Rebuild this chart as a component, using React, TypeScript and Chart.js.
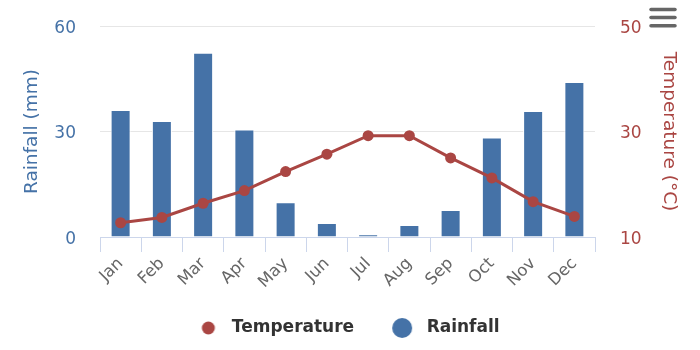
import React, { useEffect, useRef } from 'react';
import { Chart, registerables } from 'chart.js';

Chart.register(...registerables);

const months = ['Jan', 'Feb', 'Mar', 'Apr', 'May', 'Jun', 'Jul', 'Aug', 'Sep', 'Oct', 'Nov', 'Dec'];
const rainfall = [36.1, 33.0, 52.4, 30.6, 9.9, 4.0, 0.8, 3.4, 7.7, 28.3, 35.8, 44.1];
const temperature = [12.7, 13.7, 16.4, 18.8, 22.4, 25.7, 29.2, 29.2, 25.0, 21.2, 16.7, 13.9];
const rainRange = [0, 60];
const rainStep = 30;
const tempRange = [10, 50];
const tempStep = 20;

const BLUE = '#4572A7';
const RED = '#AA4643';
const FONT = '"DejaVu Sans", sans-serif';

function makeMarker(color: string, r: number, dx: number) {
  const c = document.createElement('canvas');
  c.width = 40;
  c.height = 24;
  const g = c.getContext('2d')!;
  g.fillStyle = color;
  g.beginPath();
  g.arc(20 + dx, 12, r, 0, Math.PI * 2);
  g.fill();
  return c;
}

const menuPlugin = {
  id: 'menuIcon',
  afterDraw(chart: any) {
    const ctx = chart.ctx;
    ctx.save();
    ctx.strokeStyle = '#666666';
    ctx.lineWidth = 3.5;
    ctx.lineCap = 'round';
    [9.5, 17.5, 25.7].forEach((y) => {
      ctx.beginPath();
      ctx.moveTo(651, y);
      ctx.lineTo(675, y);
      ctx.stroke();
    });
    ctx.restore();
  },
};

export default function App() {
  const ref = useRef<HTMLCanvasElement | null>(null);
  useEffect(() => {
    if (!ref.current) return;
    const markers = [makeMarker(RED, 6.5, 1), makeMarker(BLUE, 10, 0)];
    const chart = new Chart(ref.current, {
      type: 'bar',
      data: {
        labels: months,
        datasets: [
          {
            type: 'line',
            label: 'Temperature',
            data: temperature,
            yAxisID: 'yTemp',
            borderColor: RED,
            backgroundColor: RED,
            borderWidth: 3,
            pointRadius: 5.5,
            pointBorderWidth: 0,
            pointBackgroundColor: RED,
            tension: 0,
          } as any,
          {
            type: 'bar',
            label: 'Rainfall',
            data: rainfall,
            yAxisID: 'yRain',
            backgroundColor: BLUE,
            borderColor: '#ffffff',
            borderWidth: 1,
            categoryPercentage: 1,
            barPercentage: 0.485,
          } as any,
        ],
      },
      options: {
        responsive: false,
        animation: false,
        layout: { padding: { top: 26, left: 0, right: 9, bottom: 3.5 } },
        plugins: {
          tooltip: { enabled: false },
          legend: {
            position: 'bottom',
            labels: {
              usePointStyle: true,
              pointStyleWidth: 32,
              padding: 32,
              color: '#333333',
              font: { family: FONT, size: 17, weight: 'bold' },
              generateLabels: (ch: any) =>
                ch.data.datasets.map((ds: any, i: number) => ({
                  text: ds.label,
                  pointStyle: markers[i],
                  fillStyle: ds.backgroundColor,
                  strokeStyle: ds.backgroundColor,
                  lineWidth: 0,
                  hidden: false,
                  datasetIndex: i,
                  fontColor: '#333333',
                })),
            },
          },
        },
        scales: {
          x: {
            afterFit: (s: any) => {
              s.height = 50.5;
            },
            grid: {
              offset: true,
              drawOnChartArea: false,
              drawTicks: true,
              tickLength: 15,
              color: '#ccd6eb',
            },
            border: { color: '#ccd6eb', width: 1 },
            ticks: {
              autoSkip: false,
              minRotation: 45,
              maxRotation: 45,
              padding: 2,
              color: '#666666',
              font: { family: FONT, size: 16.5 },
            },
          },
          yRain: {
            position: 'left',
            min: rainRange[0],
            max: rainRange[1],
            afterFit: (s: any) => {
              s.width = 100;
              s.paddingTop = 10;
              s.paddingBottom = 10;
            },
            ticks: {
              stepSize: rainStep,
              padding: 24,
              labelOffset: 2.5,
              color: BLUE,
              font: { family: FONT, size: 17 },
            },
            grid: {
              drawTicks: false,
              color: (c: any) => (c.tick && c.tick.value === 0 ? 'rgba(0,0,0,0)' : '#e6e6e6'),
            },
            border: { display: false },
            title: {
              display: true,
              text: 'Rainfall (mm)',
              color: BLUE,
              font: { family: FONT, size: 18.5 },
              padding: { top: 21, bottom: 0 },
            },
          },
          yTemp: {
            position: 'right',
            min: tempRange[0],
            max: tempRange[1],
            afterFit: (s: any) => {
              s.width = 96;
              s.paddingTop = 10;
              s.paddingBottom = 10;
            },
            ticks: {
              stepSize: tempStep,
              padding: 25,
              labelOffset: 2.5,
              color: RED,
              font: { family: FONT, size: 17 },
            },
            grid: { drawOnChartArea: false, drawTicks: false },
            border: { display: false },
            title: {
              display: true,
              text: 'Temperature (°C)',
              color: RED,
              font: { family: FONT, size: 18.5 },
              padding: { top: 11, bottom: 0 },
            },
          },
        },
      },
      plugins: [menuPlugin],
    });
    return () => chart.destroy();
  }, []);
  return (
    <div style={{ position: 'absolute', left: 0, top: 0, width: 700, height: 350, background: '#ffffff' }}>
      <canvas ref={ref} width={700} height={350} />
    </div>
  );
}
